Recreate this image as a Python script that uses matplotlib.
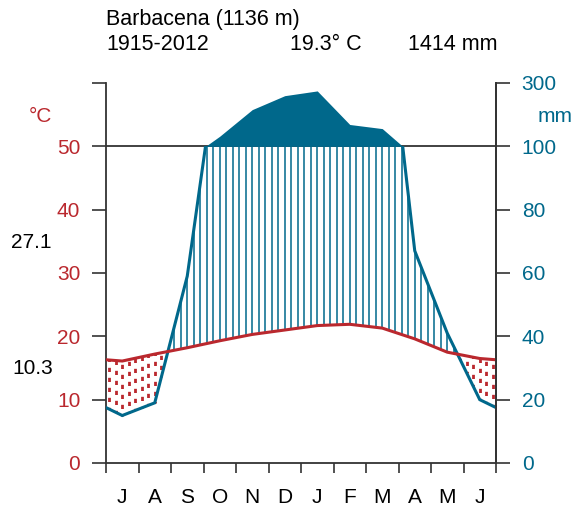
import numpy as np
import matplotlib
matplotlib.use("Agg")
import matplotlib.pyplot as plt
from matplotlib.patches import Rectangle

plt.rcParams['font.family'] = ['Liberation Sans', 'DejaVu Sans']

months = ["J", "A", "S", "O", "N", "D", "J", "F", "M", "A", "M", "J"]
temp = [16.1, 17.2, 18.2, 19.3, 20.3, 21.0, 21.7, 21.9, 21.3, 19.6, 17.5, 16.5]
prec = [15, 19, 59, 132, 216, 260, 275, 169, 156, 67, 41, 20]
station = "Barbacena (1136 m)"
period = "1915-2012"
mean_t = "19.3° C"
total_p = "1414 mm"
tmax_warm = "27.1"
tmin_cold = "10.3"
left_ticks = [0, 10, 20, 30, 40, 50]
right_labels = ["0", "20", "40", "60", "80", "100"]

RED = "#BA282E"
BLUE = "#00688B"
AXC = "#333333"

W, H = 576, 512
fig = plt.figure(figsize=(W / 100, H / 100), dpi=100)
ax = fig.add_axes([106 / W, 1 - 463 / H, 390 / W, 380 / H])

t = np.array(temp, float)
p = np.array(prec, float)
xc = np.arange(12) + 0.5
xe = np.concatenate([[0], xc, [12]])
te = np.concatenate([[(t[0] + t[-1]) / 2], t, [(t[0] + t[-1]) / 2]])
pe = np.concatenate([[(p[0] + p[-1]) / 2], p, [(p[0] + p[-1]) / 2]])

# hatching (vertical lines every 0.2 month)
xh = np.arange(0.1, 12, 0.2)
th = np.interp(xh, xe, te)
ph = np.interp(xh, xe, pe) / 2
for xi, ti, pi in zip(xh, th, ph):
    if pi > ti:
        ax.plot([xi, xi], [ti, min(pi, 50)], color=BLUE, lw=1.1, zorder=2,
                solid_capstyle='butt')
    else:
        ax.plot([xi, xi], [pi, ti], color=RED, lw=2.0, zorder=2,
                linestyle=(0.9, (1.5, 2.1)), dash_capstyle='butt')

# wet period above 100 mm (compressed scale)
xs = np.linspace(0, 12, 4801)
ps = np.interp(xs, xe, pe)
comp = 50 + (ps - 100) / 20
ax.fill_between(xs, 50, comp, where=ps > 100, color=BLUE, lw=0, zorder=3)

# 50 / 100 line
ax.axhline(50, color=AXC, lw=1.3, zorder=1)

# precipitation line (clipped at 100 mm)
ln, = ax.plot(xe, pe / 2, color=BLUE, lw=2.2, zorder=4, solid_joinstyle='miter')
ln.set_clip_path(Rectangle((0, -5), 12, 55, transform=ax.transData))
# temperature line
ax.plot(xe, te, color=RED, lw=2.2, zorder=5)

ax.set_xlim(0, 12)
ax.set_ylim(0, 60)
ax.spines["top"].set_visible(False)
for s in ["left", "right", "bottom"]:
    ax.spines[s].set_color(AXC)
    ax.spines[s].set_linewidth(1.3)

ax.set_xticks(np.arange(13))
ax.set_xticklabels([])
ax.tick_params(axis='x', which='major', length=7.2, width=1.2, color=AXC, direction='out')
ax.set_xticks(xc, minor=True)
ax.set_xticklabels(months, minor=True, fontsize=15)
ax.tick_params(axis='x', which='minor', length=0, pad=18)

ax.set_yticks(left_ticks + [60])
ax.set_yticklabels([str(v) for v in left_ticks] + [""], color=RED, fontsize=15)
ax.tick_params(axis='y', length=10, width=1.2, color=AXC, pad=8.5)

ax2 = ax.twinx()
ax2.set_ylim(0, 60)
ax2.set_yticks(left_ticks + [60])
ax2.set_yticklabels(right_labels + ["300"], color=BLUE, fontsize=15)
ax2.tick_params(axis='y', length=10, width=1.2, color=AXC, pad=8.5)
for s in ["top", "left", "bottom"]:
    ax2.spines[s].set_visible(False)
ax2.spines["right"].set_color(AXC)
ax2.spines["right"].set_linewidth(1.3)

def ftext(x, y, s, **kw):
    fig.text(x / W, 1 - y / H, s, **kw)

ftext(106, 19, station, fontsize=15.5, va='center', ha='left')
ftext(106, 45, period, fontsize=15.5, va='center', ha='left')
ftext(290, 45, mean_t, fontsize=15.5, va='center', ha='left')
ftext(408, 45, total_p, fontsize=15.5, va='center', ha='left')
ftext(40, 116, "°C", fontsize=15, color=RED, va='center', ha='center')
ftext(555, 117, "mm", fontsize=15, color=BLUE, va='center', ha='center')
ftext(52, 242, tmax_warm, fontsize=15, va='center', ha='right')
ftext(53, 369, tmin_cold, fontsize=15, va='center', ha='right')

fig.savefig("out.png", dpi=100)
